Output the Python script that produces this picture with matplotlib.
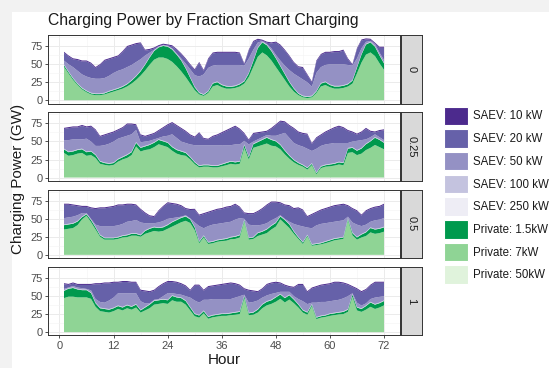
import matplotlib
matplotlib.use("Agg")
import matplotlib.pyplot as plt
from matplotlib.patches import Rectangle, Patch

plt.rcParams['font.family'] = ['Liberation Sans', 'DejaVu Sans']

# ---------------- data ----------------
hours = list(range(1, 73))
fractions = ['0', '0.25', '0.5', '1']
series_names = ['SAEV: 10 kW', 'SAEV: 20 kW', 'SAEV: 50 kW', 'SAEV: 100 kW',
                'SAEV: 250 kW', 'Private: 1.5kW', 'Private: 7kW', 'Private: 50kW']
series_colors = ['#4c2a8d', '#6661a9', '#9491c4', '#c4c3df', '#eeedf5',
                 '#00994d', '#8fd495', '#e0f3dc']

# fraction smart charging = 0
priv7_f0 = [46, 37, 28, 21, 15, 11, 8, 7, 7, 8, 10, 12, 14, 16, 19, 23, 28, 34, 41, 49,
            56, 59, 59, 57, 53, 47, 40, 32, 23, 14, 8, 6, 10, 19, 21, 18, 16, 16, 17, 19,
            23, 32, 46, 60, 66, 62, 55, 46, 37, 28, 19, 12, 7, 4, 3, 4, 10, 19, 21, 18,
            16, 16, 17, 19, 23, 37, 52, 63, 66, 61, 51, 42]
priv15_f0 = [2.5, 2, 2, 1.5, 1.5, 1.5, 1.5, 1.5, 1.5, 1.5, 2, 2, 2, 2.5, 3, 4, 5, 6, 8, 10,
             12, 14, 16, 17, 17, 16, 15, 12, 8, 4, 2, 1.5, 2, 4, 4, 3, 3, 2.5, 2.5, 3,
             3, 5, 8, 12, 14, 14, 13, 12, 10, 8, 6, 4, 2, 1.5, 1.5, 1.5, 2, 4, 4, 3,
             3, 3, 3, 3, 4, 8, 11, 14, 14, 13, 11, 9]
saev50_f0 = [5.3, 9.8, 14.8, 17.3, 18.3, 19.3, 20.3, 20.3, 20.3, 20.3, 20.8, 22.8, 23.8, 23.3, 22.8, 20.8, 18.8, 15.8, 11.8, 5.8,
             0.8, 0.3, 0.3, 0.3, 0.8, 0.8, 1.8, 5.8, 10.8, 15.8, 21.8, 27.3, 31.8, 23.8, 22.8, 26.8, 28.8, 29.3, 28.3, 25.8,
             20.8, 19.8, 14.8, 6.8, 0.8, 0.8, 2.8, 3.8, 6.8, 10.8, 15.8, 19.8, 22.8, 22.3, 19.3, 12.3, 24.8, 21.8, 22.8, 27.8,
             29.8, 29.8, 28.8, 25.8, 19.8, 11.8, 7.8, 2.8, 0.8, 2.8, 2.8, 3.8]
saev20_f0 = [10.8, 10.8, 10.8, 14.8, 17.8, 20.8, 19.8, 14.8, 18.8, 23.8, 22.8, 20.8, 19.8, 23.8, 27.8, 26.8, 24.8, 21.8, 6.8, 3.8,
             1.8, 0.5, 0.5, 0.5, 2.8, 4.8, 5.8, 5.8, 5.8, 6.8, 18.8, 4.8, 11.8, 16.8, 16.8, 16.8, 16.8, 16.8, 16.8, 15.8,
             1.8, 10.8, 10.8, 3.8, 0.5, 1.8, 6.8, 16.8, 20.8, 20.8, 18.8, 14.8, 12.8, 15.8, 9.8, 5.8, 15.8, 16.8, 16.8, 15.8,
             16.8, 16.8, 18.8, 7.8, 0.8, 12.8, 10.8, 3.3, 1.8, 0.5, 6.8, 16.8]

# fraction smart charging = 0.25
priv7_f025 = [34, 30, 31, 33, 34, 30, 31, 27, 19, 17.5, 16.5, 17.5, 22, 25, 27, 31, 43, 36, 38, 39,
              42, 46, 44, 42, 37, 33, 31, 30, 25, 18.5, 14, 15, 15, 14, 14, 15.5, 17, 19, 18, 19,
              41, 25, 41, 43, 45, 47, 44, 43, 39, 32, 26, 21, 17.5, 15, 11, 17, 4.5, 13, 15, 15.5,
              16.5, 18, 17, 34, 35, 31, 33, 38, 41, 45, 42, 39]
priv15_f025 = [5, 5, 5, 5, 5, 5, 5, 4, 3, 2.5, 2.5, 2.5, 3, 3, 4, 4, 5, 5, 5, 6,
               6, 6, 6, 6, 5, 5, 5, 4, 3, 2.5, 2, 2, 2, 2, 2, 2.5, 3, 3, 3, 3,
               4, 3, 5, 6, 7, 8, 8, 7, 6, 5, 4, 3, 2.5, 2, 2, 2, 1.5, 2, 2, 2.5,
               2.5, 3, 3, 6, 6, 6, 7, 8, 9, 10, 10, 9]
saev50_f025 = [11.8, 15.8, 15.8, 13.8, 12.8, 17.8, 12.8, 11.8, 20.8, 23.8, 26.8, 28.8, 27.8, 26.8, 25.8, 23.8, 16.8, 6.8, 5.8, 4.8,
               3.8, 1.8, 5.8, 8.8, 16.8, 15.8, 12.8, 12.8, 16.8, 22.8, 27.8, 26.8, 26.8, 27.8, 27.8, 25.8, 23.8, 21.8, 23.8, 22.8,
               4.8, 16.8, 2.8, 2.8, 2.8, 2.8, 4.8, 6.8, 13.8, 23.8, 23.8, 22.8, 23.8, 24.8, 25.8, 16.8, 32.8, 27.8, 27.8, 27.8,
               27.8, 25.8, 26.8, 6.8, 7.8, 12.8, 10.8, 5.8, 4.8, 3.8, 2.8, 2.8]
saev20_f025 = [15.5, 16.5, 16.5, 16.5, 18.5, 15.5, 20.5, 21.5, 12.5, 13.5, 13.5, 12.5, 11.5, 12.5, 15.5, 13.5, 6.5, 9.5, 6.5, 7.5,
               7.5, 9.5, 11.5, 14.5, 15.5, 16.5, 17.5, 15.5, 12.5, 10.5, 16.5, 8.5, 7.5, 11.5, 13.5, 16.5, 19.5, 22.5, 24.5, 20.5,
               9.5, 5.5, 10.5, 8.5, 6.5, 4.5, 9.5, 14.5, 17.5, 14.5, 16.5, 19.5, 17.5, 17.5, 19.5, 9.5, 14.5, 14.5, 16.5, 18.5,
               20.5, 22.5, 20.5, 16.5, 12.5, 8.5, 10.5, 14.5, 7.5, 2.5, 8.5, 13.5]

# fraction smart charging = 0.5
priv7_f05 = [35, 36, 37, 41, 49, 54, 45, 35, 25, 21, 21, 21, 22, 24, 24.5, 26.5, 26.5, 25, 29, 31,
             33, 32, 33, 36, 39, 42, 45, 47, 44, 34, 16, 24, 15, 16, 18, 19, 19.5, 21.5, 22, 24,
             46, 21, 22, 26, 28, 30, 35, 39, 49, 43, 37, 29, 22, 15, 25.5, 12.5, 13.5, 14.5, 16, 18,
             20, 21, 22, 48, 27, 21, 24, 26, 31, 29, 30, 32]
priv15_f05 = [6, 6, 6, 5, 3, 2, 3, 3, 2, 2, 2, 2, 2, 2, 2.5, 2.5, 2.5, 2, 4, 5,
              5, 5, 5, 5, 6, 6, 6, 6, 5, 4, 2, 2, 2, 2, 2, 2, 2.5, 2.5, 3, 3,
              2, 2, 2, 4, 4, 5, 5, 5, 4, 5, 5, 3, 2, 2, 1.5, 1.5, 1.5, 1.5, 2, 2,
              2, 2, 2, 2, 3, 3, 4, 5, 6, 6, 6, 6]
saev50_f05 = [8.8, 8.8, 8.8, 7.8, 4.8, 0.8, 0.8, 2.8, 11.8, 15.8, 15.8, 15.8, 15.8, 15.8, 17.8, 16.8, 18.3, 16.8, 9.8, 6.8,
              4.8, 6.8, 7.8, 7.8, 4.8, 2.8, 0.8, 0.8, 0.5, 5.8, 20.8, 9.8, 21.8, 22.8, 21.8, 21.8, 21.8, 20.8, 22.8, 22.8,
              0.8, 17.8, 15.8, 9.8, 8.8, 7.8, 6.8, 5.8, 0.8, 0.8, 2.8, 9.8, 15.8, 21.3, 9.8, 21.8, 24.8, 25.8, 24.8, 23.8,
              22.8, 22.8, 22.8, 1.8, 13.8, 16.8, 10.8, 9.8, 7.8, 11.8, 11.8, 11.8]
saev20_f05 = [18.5, 17.5, 15.5, 12.5, 8.5, 8.5, 14.5, 21.5, 24.5, 24.5, 25.5, 26.5, 27.5, 25.5, 23.5, 22.5, 20, 17.5, 13.5, 9.5,
              8.5, 15.5, 19.5, 21.5, 19.5, 17.5, 14.5, 8.5, 11.5, 17.5, 14.5, 19.5, 18.5, 18.5, 19.5, 19.5, 20.5, 20.5, 20.5, 14.5,
              7.5, 14.5, 15.5, 18.5, 21.5, 24.5, 24.5, 21.5, 16.5, 18.5, 21.5, 20.5, 23.5, 22, 14.5, 18.5, 17.5, 18.5, 19.5, 20.5,
              21.5, 21.5, 21.5, 14.5, 18.5, 18.5, 14.5, 18.5, 17.5, 17.5, 17.5, 18.5]

# fraction smart charging = 1
priv7_f1 = [47, 49, 49, 48, 48, 48, 46, 35, 29, 28, 27, 29, 32, 30, 33, 31, 34, 27, 30, 33,
            38, 39, 40, 39, 44, 42, 42, 38, 30, 22, 20, 26, 18.5, 20.5, 21.5, 22.5, 22.5, 23.5, 24, 25,
            47, 23.5, 24, 27, 33, 37, 39, 42, 46, 41, 45, 40, 34, 27, 24, 36, 18, 20, 21, 22.5,
            23.5, 24.5, 25, 28, 49, 30, 28, 31, 35, 32, 34, 37]
priv15_f1 = [10, 11, 12, 11, 10, 10, 8, 5, 4, 4, 4, 4, 4, 4, 4, 4, 4, 3, 4, 5,
             5, 5, 5, 5, 6, 6, 5, 5, 4, 3, 3, 3, 2.5, 2.5, 2.5, 2.5, 2.5, 2.5, 3, 3,
             3, 2.5, 3, 4, 5, 5, 5, 6, 6, 6, 6, 5, 4, 3, 3, 2, 2, 2, 2, 2.5,
             2.5, 2.5, 3, 3, 3, 4, 4, 5, 6, 6, 6, 6]
saev50_f1 = [1.8, 0.8, 1.8, 1.8, 1.8, 0.8, 2.8, 4.8, 7.8, 7.8, 11.8, 13.8, 16.8, 18.8, 15.8, 17.8, 14.8, 11.8, 4.8, 0.8,
             0.8, 0.8, 3.8, 8.8, 2.8, 3.8, 3.8, 5.8, 12.8, 17.8, 16.8, 14.8, 22.8, 21.8, 20.8, 19.8, 19.8, 18.8, 19.8, 20.8,
             0.8, 13.8, 13.8, 11.8, 8.8, 7.8, 7.8, 5.3, 2.8, 7.8, 3.8, 3.8, 6.8, 11.8, 10.8, 1.8, 19.8, 18.8, 17.8, 16.8,
             16.8, 16.8, 17.8, 17.8, 0.8, 5.8, 3.8, 2.8, 3.8, 8.8, 7.8, 5.8]
saev20_f1 = [6.5, 3.5, 3.5, 3.5, 4.5, 5.5, 7.5, 20.5, 24.5, 26.5, 23.5, 20.5, 14.5, 15.5, 15.5, 14.5, 14.5, 14.5, 16.5, 15.5,
             12.5, 16.5, 16.5, 15.5, 15.5, 15.5, 14.5, 13.5, 9.5, 20.5, 23.5, 12.5, 17.5, 17.5, 18.5, 19.5, 20.5, 21.5, 18.5, 14.5,
             7.5, 16.5, 14.5, 11.5, 11.5, 14.5, 14.5, 14, 11.5, 8.5, 6.5, 11.5, 19.5, 22.5, 16.5, 19.5, 21.5, 22.5, 23.5, 23.5,
             24.5, 23.5, 20.5, 15.5, 8.5, 18.5, 18.5, 18.5, 18.5, 20.5, 19.5, 18.5]

# thin layers (read as roughly constant, shared by all panels)
saev10_all = [1.4] * 72
saev100_all = [0.6] * 72
saev250_all = [0.3] * 72
priv50_all = [0.2] * 72

panels = {
    '0': (priv7_f0, priv15_f0, saev50_f0, saev20_f0),
    '0.25': (priv7_f025, priv15_f025, saev50_f025, saev20_f025),
    '0.5': (priv7_f05, priv15_f05, saev50_f05, saev20_f05),
    '1': (priv7_f1, priv15_f1, saev50_f1, saev20_f1),
}

x_ticks = [0, 12, 24, 36, 48, 60, 72]
y_ticks = [0, 25, 50, 75]

# ---------------- figure ----------------
W, H = 549, 368
fig = plt.figure(figsize=(W / 100, H / 100), dpi=100)
fig.patch.set_facecolor('#f2f2f2')
fig.patches.append(Rectangle((12 / W, 0), 1 - 12 / W, 1 - 12 / H,
                             transform=fig.transFigure, facecolor='white',
                             edgecolor='none', zorder=-10))


def px_axes(x0, y0, x1, y1):
    a = fig.add_axes([x0 / W, 1 - y1 / H, (x1 - x0) / W, (y1 - y0) / H])
    a.set_zorder(2)
    return a


panel_left, panel_right = 48, 400
strip_left, strip_right = 401, 422
panel_h, panel_gap, top0 = 68.5, 8.8, 35
border_col = '#333333'

for i, frac in enumerate(fractions):
    p7, p15, s50, s20 = panels[frac]
    top = top0 + i * (panel_h + panel_gap)
    bot = top + panel_h
    ax = px_axes(panel_left, top, panel_right, bot)
    ax.set_facecolor('white')
    layers = [priv50_all, p7, p15, saev250_all, saev100_all, s50, s20, saev10_all]
    cols = [series_colors[7], series_colors[6], series_colors[5], series_colors[4],
            series_colors[3], series_colors[2], series_colors[1], series_colors[0]]
    polys = ax.stackplot(hours, *layers, colors=cols, linewidth=0, zorder=2)
    for p in polys:
        p.set_edgecolor('none')
    ax.set_xlim(-2.55, 75.55)
    ax.set_ylim(-4.3, 90.3)
    ax.set_xticks(x_ticks)
    ax.set_xticks([6, 18, 30, 42, 54, 66], minor=True)
    ax.set_yticks(y_ticks)
    ax.set_yticks([12.5, 37.5, 62.5, 87.5], minor=True)
    ax.grid(which='major', color='#ebebeb', linewidth=0.7, zorder=0)
    ax.grid(which='minor', color='#f3f3f3', linewidth=0.4, zorder=0)
    ax.set_axisbelow(True)
    for sp in ax.spines.values():
        sp.set_color(border_col)
        sp.set_linewidth(0.7)
    ax.tick_params(which='minor', length=0)
    ax.tick_params(which='major', length=2.5, width=0.6, color=border_col,
                   labelsize=8, labelcolor='#4d4d4d', pad=1.5)
    ax.set_yticklabels([str(v) for v in y_ticks])
    if i < 3:
        ax.tick_params(axis='x', which='major', length=0, labelbottom=False)
    else:
        ax.set_xticklabels([str(v) for v in x_ticks])

    sax = px_axes(strip_left, top, strip_right, bot)
    sax.set_facecolor('#d9d9d9')
    sax.set_xticks([])
    sax.set_yticks([])
    for sp in sax.spines.values():
        sp.set_color(border_col)
        sp.set_linewidth(0.7)
    sax.text(0.5, 0.5, frac, rotation=-90, ha='center', va='center',
             fontsize=8, color='#1a1a1a', transform=sax.transAxes)

fig.text(48 / W, 1 - 25 / H, 'Charging Power by Fraction Smart Charging',
         ha='left', va='baseline', fontsize=11.3, color='#1a1a1a')
fig.text(18 / W, 1 - 179 / H, 'Charging Power (GW)', rotation=90,
         ha='center', va='center', fontsize=11, color='#1a1a1a')
fig.text(224 / W, 1 - 360 / H, 'Hour', ha='center', va='center',
         fontsize=11, color='#1a1a1a')

handles = [Patch(facecolor=c, edgecolor='white', linewidth=0.8) for c in series_colors]
fig.legend(handles, series_names, loc='upper left',
           bbox_to_anchor=(444 / W, 1 - 106.5 / H), frameon=False,
           fontsize=8.3, handlelength=2.1, handleheight=2.1,
           labelspacing=0.36, handletextpad=0.45, borderpad=0,
           borderaxespad=0, labelcolor='#1a1a1a')

fig.savefig('out.png', dpi=100, facecolor=fig.get_facecolor())
